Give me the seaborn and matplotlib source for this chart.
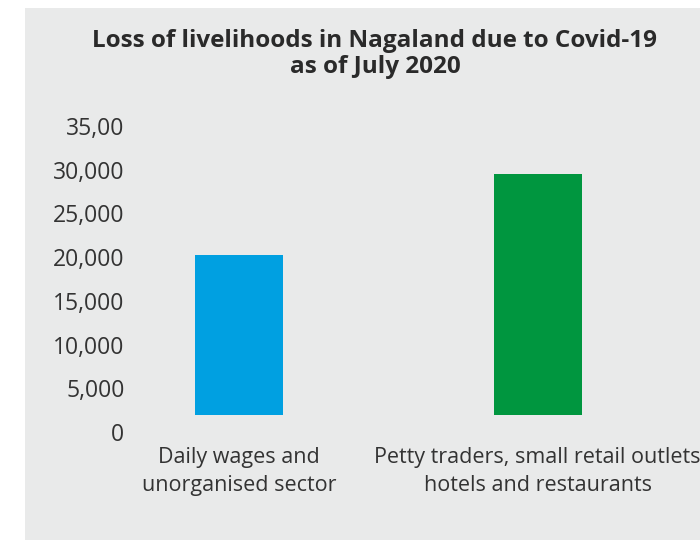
import matplotlib
matplotlib.use("Agg")
import matplotlib.pyplot as plt
from matplotlib.patches import Rectangle
import seaborn as sns
import pandas as pd

# ---- data ----
categories = ["Daily wages and\nunorganised sector",
              "Petty traders, small retail outlets\nhotels and restaurants"]
bar_tops = [20250, 29500]          # top of each bar
bar_base = 1900                    # bars in the original float above the zero line
bar_colors = ["#00a0e1", "#00963f"]
y_ticks = [0, 5000, 10000, 15000, 20000, 25000, 30000, 35000]
y_tick_labels = ["0", "5,000", "10,000", "15,000", "20,000", "25,000", "30,000", "35,00"]
title = "Loss of livelihoods in Nagaland due to Covid-19\nas of July 2020"

sns.set_theme(style="white")
plt.rcParams["font.family"] = ["Open Sans", "DejaVu Sans"]

W, H = 700, 540
fig = plt.figure(figsize=(W / 100, H / 100), dpi=100)
fig.patch.set_facecolor("white")
fig.patches.append(Rectangle((25 / W, 0), (W - 25) / W, (H - 8) / H,
                             transform=fig.transFigure, facecolor="#e9eaea",
                             edgecolor="none", zorder=-10))

ax_left, ax_right = 130, 700
ax_top, ax_bottom = 126, 432
ax = fig.add_axes([ax_left / W, (H - ax_bottom) / H,
                   (ax_right - ax_left) / W, (ax_bottom - ax_top) / H])
ax.set_facecolor("none")

df = pd.DataFrame({"cat": categories, "val": bar_tops})
sns.barplot(data=df, x="cat", y="val", hue="cat", palette=bar_colors,
            width=0.295, legend=False, ax=ax, saturation=1)
for p, top in zip(ax.patches, bar_tops):
    p.set_y(bar_base)
    p.set_height(top - bar_base)
    p.set_linewidth(0)

ax.set_xlim(-0.365, 1.544)
ax.set_ylim(0, 35000)
ax.set_yticks(y_ticks)
ax.set_yticklabels(y_tick_labels)
ax.set_xlabel("")
ax.set_ylabel("")
for s in ax.spines.values():
    s.set_visible(False)
ax.tick_params(axis="y", length=0, pad=4, labelsize=16.5, labelcolor="#333333")
ax.tick_params(axis="x", length=0, pad=11, labelsize=15.5, labelcolor="#333333")
for lab in ax.get_xticklabels():
    lab.set_linespacing(1.45)
    lab.set_ha("center")

fig.text(375 / W, 1 - 54 / H, title, ha="center", va="center",
         fontsize=17.5, fontweight="bold", color="#2a2a2a", linespacing=1.1)

fig.savefig("out.png", dpi=100)
